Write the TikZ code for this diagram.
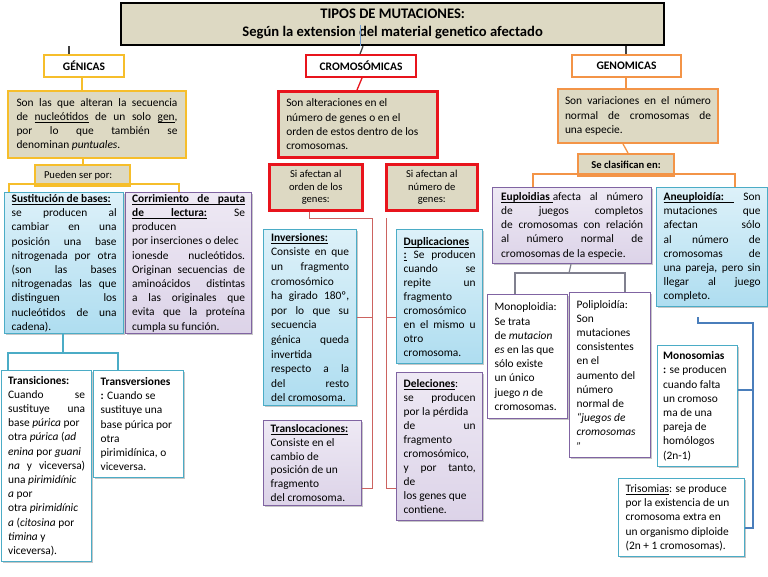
\documentclass[tikz,border=0pt]{standalone}
\usepackage{fontspec}
\setmainfont{Carlito}
\usetikzlibrary{shadows,calc}

\definecolor{cTan}{HTML}{DDD9C3}
\definecolor{cYel}{HTML}{F6BE2B}
\definecolor{cRed}{HTML}{E8141C}
\definecolor{cOrg}{HTML}{F39447}
\definecolor{cBlB}{HTML}{4BACC6}
\definecolor{cPur}{HTML}{8064A2}
\definecolor{cBlTop}{HTML}{DDF1F9}
\definecolor{cBlBot}{HTML}{AEDDF0}
\definecolor{cLavTop}{HTML}{EEE9F4}
\definecolor{cLavBot}{HTML}{DCD3E8}
\definecolor{cDark}{HTML}{404040}
\definecolor{cRedLn}{HTML}{CC6360}
\definecolor{cBlLn}{HTML}{4A7EBB}
\definecolor{cGrLn}{HTML}{80808F}
\definecolor{cTitleBl}{HTML}{6F9BD0}

\newcommand\bodyf{\fontsize{11.4}{14.2}\selectfont}
\newcommand\smallf{\fontsize{10.6}{12.6}\selectfont}
\newcommand\headf{\fontsize{11.5}{14}\selectfont\bfseries}
\newcommand\titlef{\fontsize{14.6}{18}\selectfont\bfseries}

\newsavebox\ulbox
\newcommand\ulw[1]{\sbox\ulbox{#1}\rlap{\rule[-2.3pt]{\wd\ulbox}{0.8pt}}\usebox\ulbox}
\newcommand\ulsp{\leaders\hrule height -1.5pt depth 2.3pt\hskip\fontdimen2\font plus \fontdimen3\font minus \fontdimen4\font\relax}

\begin{document}
\begin{tikzpicture}[x=1pt,y=-1pt,
  bx/.style={anchor=north west, inner sep=0pt, font=\bodyf, align=justify,
    execute at begin node={\hyphenpenalty=10000\exhyphenpenalty=10000\tolerance=10000\hbadness=10000}},
  shd/.style={drop shadow={shadow xshift=1.8pt, shadow yshift=-1.8pt, fill=black, opacity=0.22}},
  tanbox/.style={bx, draw, fill=cTan, line width=2pt},
  bluebox/.style={bx, draw=cBlB, line width=1.3pt, top color=cBlTop, bottom color=cBlBot, shd},
  lavbox/.style={bx, draw=cPur, line width=1.3pt, top color=cLavTop, bottom color=cLavBot, shd},
  whbox/.style={bx, fill=white, line width=1.3pt, shd},
  lvl/.style={bx, fill=white, line width=2pt, font=\headf, align=center},
  cn/.style={draw=#1, line width=1.3pt},
  thin/.style={draw=#1, line width=1pt}
]
\useasboundingbox (0,0) rectangle (768,576);

% ---------- title and level 1 ----------
\node[bx, draw=black, line width=2.3pt, fill=cTan, minimum width=543, minimum height=42,
      font=\titlef, align=center] (title) at (120,2)
  {TIPOS DE MUTACIONES:\\Según la extension del material genetico afectado};
\node[lvl, draw=cYel, minimum width=80, minimum height=22] (genicas) at (43,54) {GÉNICAS};
\node[lvl, draw=cRed, minimum width=110, minimum height=22] (cromo) at (305,54) {CROMOSÓMICAS};
\node[lvl, draw=cOrg, minimum width=109, minimum height=22] (genom) at (571,54) {GENOMICAS};

\coordinate (xA) at (69,0);
\coordinate (xB1) at (363,0);
\coordinate (xB2) at (360,0);
\coordinate (xC) at (626,0);
\coordinate (tblue) at (360,25);
\draw[cn=cDark] (title.south -| xA) -- (genicas.north -| xA);
\draw[cn=cDark] (title.south -| xB1) -- (cromo.north -| xB2);
\draw[cn=cDark] (title.south -| xC) -- (genom.north -| xC);
\draw[draw=cTitleBl, line width=0.8pt] (tblue) -- (title.south -| tblue);

% ---------- GENICAS branch ----------
\node[tanbox, draw=cYel, minimum width=178, minimum height=67, text width=161] (genic1) at (7,90)
{Son las que alteran la secuencia\linebreak
de \ulw{nucleótidos} de un solo \ulw{gen},\linebreak
por lo que también se\linebreak
denominan \textit{puntuales}.};

\node[tanbox, draw=cYel, minimum width=95, minimum height=21, text width=77, font=\smallf] (pueden) at (34,164)
{Pueden ser por:};

\node[bluebox, minimum width=119, minimum height=141, text width=105] (sust) at (4,192)
{\textbf{\ulw{Sustitución}\ulsp\ulw{de}\ulsp\ulw{bases:}}\newline
se producen al\linebreak
cambiar en una\linebreak
posición una base\linebreak
nitrogenada por otra\linebreak
(son las bases\linebreak
nitrogenadas las que\linebreak
distinguen los\linebreak
nucleótidos de una\linebreak
cadena).};

\node[lavbox, minimum width=126, minimum height=141, text width=113] (corr) at (125,192)
{\textbf{\ulw{Corrimiento}\ulsp\ulw{de}\ulsp\ulw{pauta}}\linebreak
\textbf{\ulw{de}\ulsp\ulw{lectura:}} Se\linebreak
producen\newline
por inserciones o delec\newline
ionesde nucleótidos.\linebreak
Originan secuencias de\linebreak
aminoácidos distintas\linebreak
a las originales que\linebreak
evita que la proteína\linebreak
cumpla su función.};

\node[whbox, draw=cBlB, minimum width=90, minimum height=191, text width=77] (transi) at (1,370)
{\textbf{Transiciones:}\newline
Cuando se\linebreak
sustituye una\linebreak
base \textit{púrica} por\newline
otra \textit{púrica} (\textit{ad}\newline
\textit{enina} por \textit{guani}\newline
\textit{na} y viceversa)\linebreak
una \textit{pirimidínic}\newline
\textit{a} por\newline
otra \textit{pirimidínic}\newline
\textit{a} (\textit{citosina} por\newline
\textit{timina} y\newline
viceversa).};

\node[whbox, draw=cBlB, minimum width=90, minimum height=107, text width=76] (transv) at (93,370)
{\textbf{Transversiones}\newline
\textbf{:} Cuando se\newline
sustituye una\newline
base púrica por\newline
otra\newline
pirimidínica, o\newline
viceversa.};

\coordinate (xG) at (82,0);
\coordinate (xP) at (83,0);
\coordinate (p1) at (9,184);
\coordinate (p2) at (179,184);
\coordinate (s0) at (63,353);
\coordinate (s1) at (8,353);
\coordinate (s2) at (118,353);
\draw[cn=cYel] (genicas.south -| xG) -- (genic1.north -| xG);
\draw[cn=cYel] (genic1.south -| xP) -- (pueden.north -| xP);
\draw[cn=cYel] (sust.north -| p1) -- (p1) -- (p2) -- (corr.north -| p2);
\draw[cn=cBlB] (sust.south -| s0) -- (s0);
\draw[cn=cBlB] (transi.north -| s1) -- (s1) -- (s2) -- (transv.north -| s2);

% ---------- CROMOSOMICAS branch ----------
\node[tanbox, draw=cRed, line width=2.5pt, minimum width=159, minimum height=66, text width=143] (cromo1) at (277,90)
{Son alteraciones en el\newline
número de genes o en el\newline
orden de estos dentro de los\newline
cromosomas.};

\node[tanbox, draw=cRed, line width=2.5pt, minimum width=93, minimum height=46, font=\smallf, align=center] (orden) at (268,163)
{Si afectan al\\orden de los\\genes:};
\node[tanbox, draw=cRed, line width=2.5pt, minimum width=91, minimum height=46, font=\smallf, align=center] (numero) at (385,163)
{Si afectan al\\número de\\genes:};

\node[bluebox, minimum width=93, minimum height=176, text width=78, font=\fontsize{11.4}{14.6}\selectfont] (inv) at (263,229)
{\textbf{\ulw{Inversiones:}}\newline
Consiste en que\linebreak
un fragmento\linebreak
cromosómico\newline
ha girado 180º,\linebreak
por lo que su\linebreak
secuencia\newline
génica queda\linebreak
invertida\newline
respecto a la\linebreak
del resto\linebreak
del cromosoma.};

\node[lavbox, minimum width=98, minimum height=85, text width=84, font=\fontsize{11.4}{13.7}\selectfont] (transl) at (263,420)
{\textbf{\ulw{Translocaciones:}}\newline
Consiste en el\newline
cambio de\newline
posición de un\newline
fragmento\newline
del cromosoma.};

\node[bluebox, minimum width=86, minimum height=134, text width=72, font=\fontsize{11.4}{13.9}\selectfont] (dup) at (396,229)
{\textbf{\ulw{Duplicaciones}}\newline
\textbf{\ulw{:}} Se producen\linebreak
cuando se\linebreak
repite un\linebreak
fragmento\newline
cromosómico\newline
en el mismo u\linebreak
otro\newline
cromosoma.};

\node[lavbox, minimum width=86, minimum height=148, text width=72, font=\fontsize{11.4}{14}\selectfont] (del) at (396,372)
{\textbf{\ulw{Deleciones}}:\newline
se producen\linebreak
por la pérdida\newline
de un\linebreak
fragmento\newline
cromosómico,\newline
y por tanto,\linebreak
de\newline
los genes que\newline
contiene.};

\coordinate (xR1) at (362,0);
\coordinate (xR2) at (357,0);
\coordinate (o1) at (309,218);
\coordinate (o2) at (372,218);
\coordinate (o3) at (372,488);
\coordinate (o4) at (372,317);
\coordinate (n1) at (386,218);
\coordinate (n2) at (386,488);
\coordinate (n3) at (386,317);
\draw[cn=cRed] (cromo.south -| xR1) -- (cromo1.north -| xR2);
\draw[thin=cRedLn] (orden.south -| o1) -- (o1) -- (o2) -- (o3) -- (transl.east |- o3);
\draw[thin=cRedLn] (o4) -- (inv.east |- o4);
\draw[thin=cRedLn] (n1) -- (n2) -- (del.west |- n2);
\draw[thin=cRedLn] (n3) -- (dup.west |- n3);

% ---------- GENOMICAS branch ----------
\node[tanbox, draw=cOrg, minimum width=160, minimum height=54, text width=146] (genom1) at (557,88)
{Son variaciones en el número\linebreak
normal de cromosomas de\linebreak
una especie.};

\node[tanbox, draw=cOrg, minimum width=96, minimum height=22, font=\smallf\bfseries, align=center] (clasif) at (577,153)
{Se clasifican en:};

\node[lavbox, minimum width=159, minimum height=76, text width=142] (eup) at (492,187)
{\textbf{\ulw{Euploidias\kern3pt}}afecta al número\linebreak
de juegos completos\linebreak
de cromosomas con relación\linebreak
al número normal de\linebreak
cromosomas de la especie.};

\node[bluebox, minimum width=111, minimum height=119, text width=97] (aneu) at (656,187)
{\textbf{\ulw{Aneuploidía:\kern10pt}} Son\linebreak
mutaciones que\linebreak
afectan sólo\linebreak
al número de\linebreak
cromosomas de\linebreak
una pareja, pero sin\linebreak
llegar al juego\linebreak
completo.};

\node[whbox, draw=cPur, minimum width=80, minimum height=124, text width=66] (mono) at (487,294)
{Monoploidia:\newline
Se trata\newline
de \textit{mutacion}\newline
\textit{es} en las que\newline
sólo existe\newline
un único\newline
juego \textit{n} de\newline
cromosomas.};

\node[whbox, draw=cPur, minimum width=81, minimum height=165, text width=67] (poli) at (569,292)
{Poliploidía:\newline
Son\newline
mutaciones\newline
consistentes\newline
en el\newline
aumento del\newline
número\newline
normal de\newline
\textit{“juegos de}\newline
\textit{cromosomas}\newline
\textit{”}};

\node[whbox, draw=cBlB, minimum width=80, minimum height=121, text width=69] (monos) at (657,345)
{\textbf{Monosomias}\newline
\textbf{:} se producen\newline
cuando falta\newline
un cromoso\newline
ma de una\newline
pareja de\newline
homólogos\newline
(2n-1)};

\node[whbox, draw=cBlB, minimum width=126, minimum height=78, text width=112] (tris) at (618,478)
{\ulw{Trisomias}: se produce\newline
por la existencia de un\newline
cromosoma extra en\newline
un organismo diploide\newline
(2n + 1 cromosomas).};

\coordinate (xO1) at (623,0);
\coordinate (xO2) at (628,0);
\coordinate (c1) at (533,174);
\coordinate (c2) at (735,174);
\coordinate (xE) at (571,0);
\coordinate (e0) at (569,273);
\coordinate (e1) at (515,273);
\coordinate (e2) at (625,273);
\coordinate (a0) at (698,317);
\coordinate (a1) at (698,323);
\coordinate (a2) at (753,323);
\coordinate (a3) at (753,528);
\coordinate (a4) at (753,390);
\draw[cn=cOrg] (genom.south -| xC) -- (genom1.north -| xC);
\draw[cn=cOrg] (genom1.south -| xO1) -- (clasif.north -| xO2);
\draw[cn=cOrg] (eup.north -| c1) -- (c1) -- (c2) -- (aneu.north -| c2);
\draw[thin=cGrLn, line width=1.2pt] (eup.south -| xE) -- (e0);
\draw[thin=cGrLn, line width=1.2pt] (mono.north -| e1) -- (e1) -- (e2) -- (poli.north -| e2);
\draw[thin=cBlLn, line width=1.2pt] (a0) -- (a1) -- (a2) -- (a3) -- (tris.east |- a3);
\draw[thin=cBlLn, line width=1.2pt] (a4) -- (monos.east |- a4);
\end{tikzpicture}
\end{document}
